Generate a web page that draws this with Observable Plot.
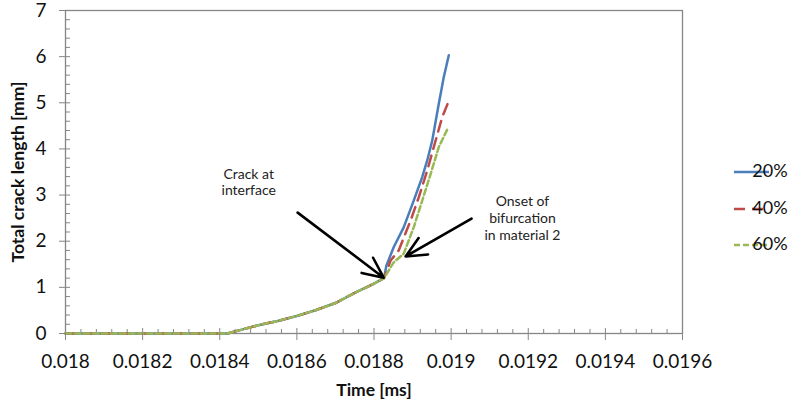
<!DOCTYPE html>
<html>
<head>
<meta charset="utf-8">
<script src="https://cdn.jsdelivr.net/npm/d3@7"></script>
<script src="https://cdn.jsdelivr.net/npm/@observablehq/plot@0.6"></script>
<style>
  html, body { margin: 0; padding: 0; background: #fff; }
  #wrap { position: relative; width: 811px; height: 406px; font-family: Lato, "Open Sans", sans-serif; }
</style>
</head>
<body>
<div id="wrap"></div>
<script>
// ---- data (time in ms, total crack length in mm) ----
const seriesNames = ["20%", "40%", "60%"];
const seriesColors = ["#4A7EBB", "#BE4B48", "#98B954"];
const seriesDash = [null, "11,7", "6,3"];

// common part shared by all three series
const commonTime   = [0.018, 0.01805, 0.0181, 0.01815, 0.0182, 0.01825, 0.0183, 0.01835, 0.0184, 0.01842, 0.01846, 0.0185, 0.01855, 0.0186, 0.01865, 0.0187, 0.01875, 0.0188, 0.018826];
const commonLength = [0, 0, 0, 0, 0, 0, 0, 0, 0, 0, 0.09, 0.18, 0.27, 0.38, 0.51, 0.66, 0.88, 1.08, 1.20];

const time20   = [0.018832, 0.018851, 0.018877, 0.018903, 0.018925, 0.018938, 0.018951, 0.018968, 0.018981, 0.018994];
const length20 = [1.47, 1.87, 2.30, 2.88, 3.39, 3.75, 4.18, 4.98, 5.56, 6.03];

const time40   = [0.018843, 0.018864, 0.018895, 0.018916, 0.018938, 0.018955, 0.018977, 0.018991];
const length40 = [1.58, 1.80, 2.45, 2.95, 3.53, 4.04, 4.69, 4.98];

const time60   = [0.018851, 0.018877, 0.018903, 0.018925, 0.018947, 0.018968, 0.018991];
const length60 = [1.54, 1.73, 2.30, 2.88, 3.46, 4.04, 4.44];

const xTicks = [0.018, 0.0182, 0.0184, 0.0186, 0.0188, 0.019, 0.0192, 0.0194, 0.0196];
const xTickLabels = ["0.018", "0.0182", "0.0184", "0.0186", "0.0188", "0.019", "0.0192", "0.0194", "0.0196"];
const yTicks = [0, 1, 2, 3, 4, 5, 6, 7];
const yTickLabels = ["0", "1", "2", "3", "4", "5", "6", "7"];

// annotations (data coordinates)
const annotationTexts = ["Crack at\ninterface", "Onset of\nbifurcation\nin material 2"];
const annotationTextX = [0.018475, 0.019185];
const annotationTextY = [3.29, 2.51];
const arrowX1 = [0.018602, 0.019053];
const arrowY1 = [2.62, 2.49];
const arrowX2 = [0.018825, 0.018882];
const arrowY2 = [1.21, 1.67];

// ---- build tables ----
const extraTimes = [time20, time40, time60];
const extraLengths = [length20, length40, length60];
const rows = [];
seriesNames.forEach((name, i) => {
  commonTime.forEach((t, j) => rows.push({series: name, t, v: commonLength[j]}));
  extraTimes[i].forEach((t, j) => rows.push({series: name, t, v: extraLengths[i][j]}));
});
const minorX = d3.range(0, 41).map(i => 0.018 + i * 0.00004).filter((d, i) => i % 5 !== 0);
const minorY = d3.range(0, 36).map(i => i * 0.2).filter((d, i) => i % 5 !== 0);
const annotations = annotationTexts.map((text, i) => ({text, x: annotationTextX[i], y: annotationTextY[i]}));
const arrows = arrowX1.map((x1, i) => ({x1, y1: arrowY1[i], x2: arrowX2[i], y2: arrowY2[i]}));

const W = 811, H = 406;
const mL = 65, mR = 129, mT = 10, mB = 73;
const fw = W - mL - mR, fh = H - mT - mB;
const axisColor = "#868686";

const lineMarks = seriesNames.map((name, i) =>
  Plot.line(rows.filter(d => d.series === name), {
    x: "t", y: "v", stroke: seriesColors[i], strokeWidth: 2.5,
    strokeDasharray: seriesDash[i] || undefined, curve: "linear"
  })
);

const chart = Plot.plot({
  width: W, height: H,
  marginLeft: mL, marginRight: mR, marginTop: mT, marginBottom: mB,
  style: {fontFamily: "Lato, 'Open Sans', sans-serif", background: "transparent", overflow: "visible"},
  x: {domain: [0.018, 0.0196]},
  y: {domain: [0, 7]},
  marks: [
    Plot.frame({stroke: axisColor, strokeWidth: 1.3}),
    // minor ticks (inside)
    Plot.tickX(minorX, {x: d => d, stroke: axisColor, insetTop: fh - 4}),
    Plot.tickY(minorY, {y: d => d, stroke: axisColor, insetRight: fw - 5}),
    // major ticks inside part
    Plot.tickX(xTicks, {x: d => d, stroke: axisColor, insetTop: fh - 5}),
    Plot.tickY(yTicks, {y: d => d, stroke: axisColor, insetRight: fw - 5}),
    ...lineMarks,
    Plot.axisX({ticks: xTicks, tickFormat: (d, i) => xTickLabels[i], tickSize: 7, tickPadding: 14,
      stroke: axisColor, fontSize: 19, fill: "#111", label: null}),
    Plot.axisY({ticks: yTicks, tickFormat: (d, i) => yTickLabels[i], tickSize: 6, tickPadding: 13,
      stroke: axisColor, fontSize: 19, fill: "#111", label: null}),
    Plot.arrow(arrows, {x1: "x1", y1: "y1", x2: "x2", y2: "y2", stroke: "#000", strokeWidth: 2.6, headLength: 13, headAngle: 50}),
    Plot.text(annotations, {x: "x", y: "y", text: "text", fontSize: 14, lineHeight: 1.2, fill: "#222"})
  ]
});

const wrap = document.getElementById("wrap");
wrap.appendChild(chart);

// titles drawn into the same SVG
const svg = d3.select(chart);
svg.append("text").attr("x", 374).attr("y", 392).attr("text-anchor", "middle").attr("dominant-baseline", "middle")
  .attr("font-weight", "bold").attr("font-size", 17.5).attr("fill", "#111").text("Time [ms]");
svg.append("text").attr("transform", "translate(20,172) rotate(-90)").attr("text-anchor", "middle").attr("dominant-baseline", "middle")
  .attr("font-weight", "bold").attr("font-size", 17.5).attr("fill", "#111").text("Total crack length [mm]");

// legend
const leg = svg.append("g");
const legY = [172, 209, 245];
seriesNames.forEach((name, i) => {
  leg.append("line").attr("x1", 734).attr("x2", 769).attr("y1", legY[i]).attr("y2", legY[i])
    .attr("stroke", seriesColors[i]).attr("stroke-width", 2.6).attr("stroke-dasharray", seriesDash[i]);
  leg.append("text").attr("x", 770).attr("y", legY[i]).attr("dominant-baseline", "middle")
    .attr("font-size", 18).attr("fill", "#111").text(name);
});
</script>
</body>
</html>
